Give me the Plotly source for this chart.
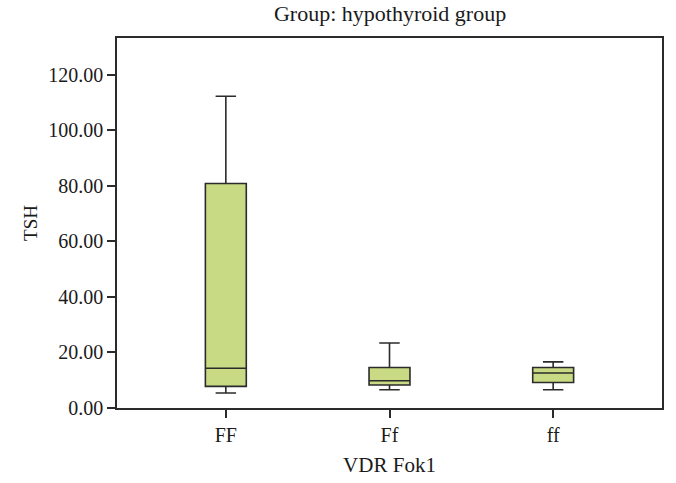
import plotly.graph_objects as go

categories = ["FF", "Ff", "ff"]
lower = [5.4, 6.6, 6.6]
q1 = [7.8, 8.3, 9.2]
median = [14.3, 9.8, 12.6]
q3 = [80.9, 14.6, 14.6]
upper = [112.3, 23.4, 16.6]
y_ticks = [0, 20, 40, 60, 80, 100, 120]
y_tick_labels = ["0.00", "20.00", "40.00", "60.00", "80.00", "100.00", "120.00"]

fill = "#C9DA84"
edge = "#2b2b2b"
font_family = "Liberation Serif, DejaVu Serif, serif"

fig = go.Figure()
fig.add_trace(go.Box(
    x=categories,
    q1=q1, median=median, q3=q3,
    lowerfence=lower, upperfence=upper,
    fillcolor=fill,
    line=dict(color=edge, width=1.6),
    width=0.25,
    whiskerwidth=0.5,
    boxpoints=False,
    showlegend=False,
))

fig.update_layout(
    width=676, height=483,
    margin=dict(l=117, r=14, t=38, b=75),
    paper_bgcolor="white",
    plot_bgcolor="white",
    font=dict(family=font_family, size=20, color="#1a1a1a"),
    title=dict(text="Group: hypothyroid group", x=0.577, xanchor="center",
               y=0.972, yanchor="middle", font=dict(size=22, family=font_family)),
)
fig.update_xaxes(
    type="category",
    range=[-0.665, 2.665],
    automargin=False,
    showline=True, linecolor=edge, linewidth=1.6, mirror=True,
    ticks="outside", ticklen=8, tickcolor=edge, tickwidth=1.5,
    showgrid=False, zeroline=False,
    title=dict(text="VDR Fok1", font=dict(size=21), standoff=13),
    tickfont=dict(size=20),
)
fig.update_yaxes(
    range=[0, 133.3],
    automargin=False,
    tickvals=y_ticks, ticktext=y_tick_labels,
    showline=True, linecolor=edge, linewidth=1.6, mirror=True,
    ticks="outside", ticklen=8, tickcolor=edge, tickwidth=1.5,
    showgrid=False, zeroline=False,
    title=dict(text="TSH", font=dict(size=19), standoff=6),
    tickfont=dict(size=20),
)

fig.write_html("out.html", config={"displayModeBar": False},
               post_script="document.body.style.margin='0';")
